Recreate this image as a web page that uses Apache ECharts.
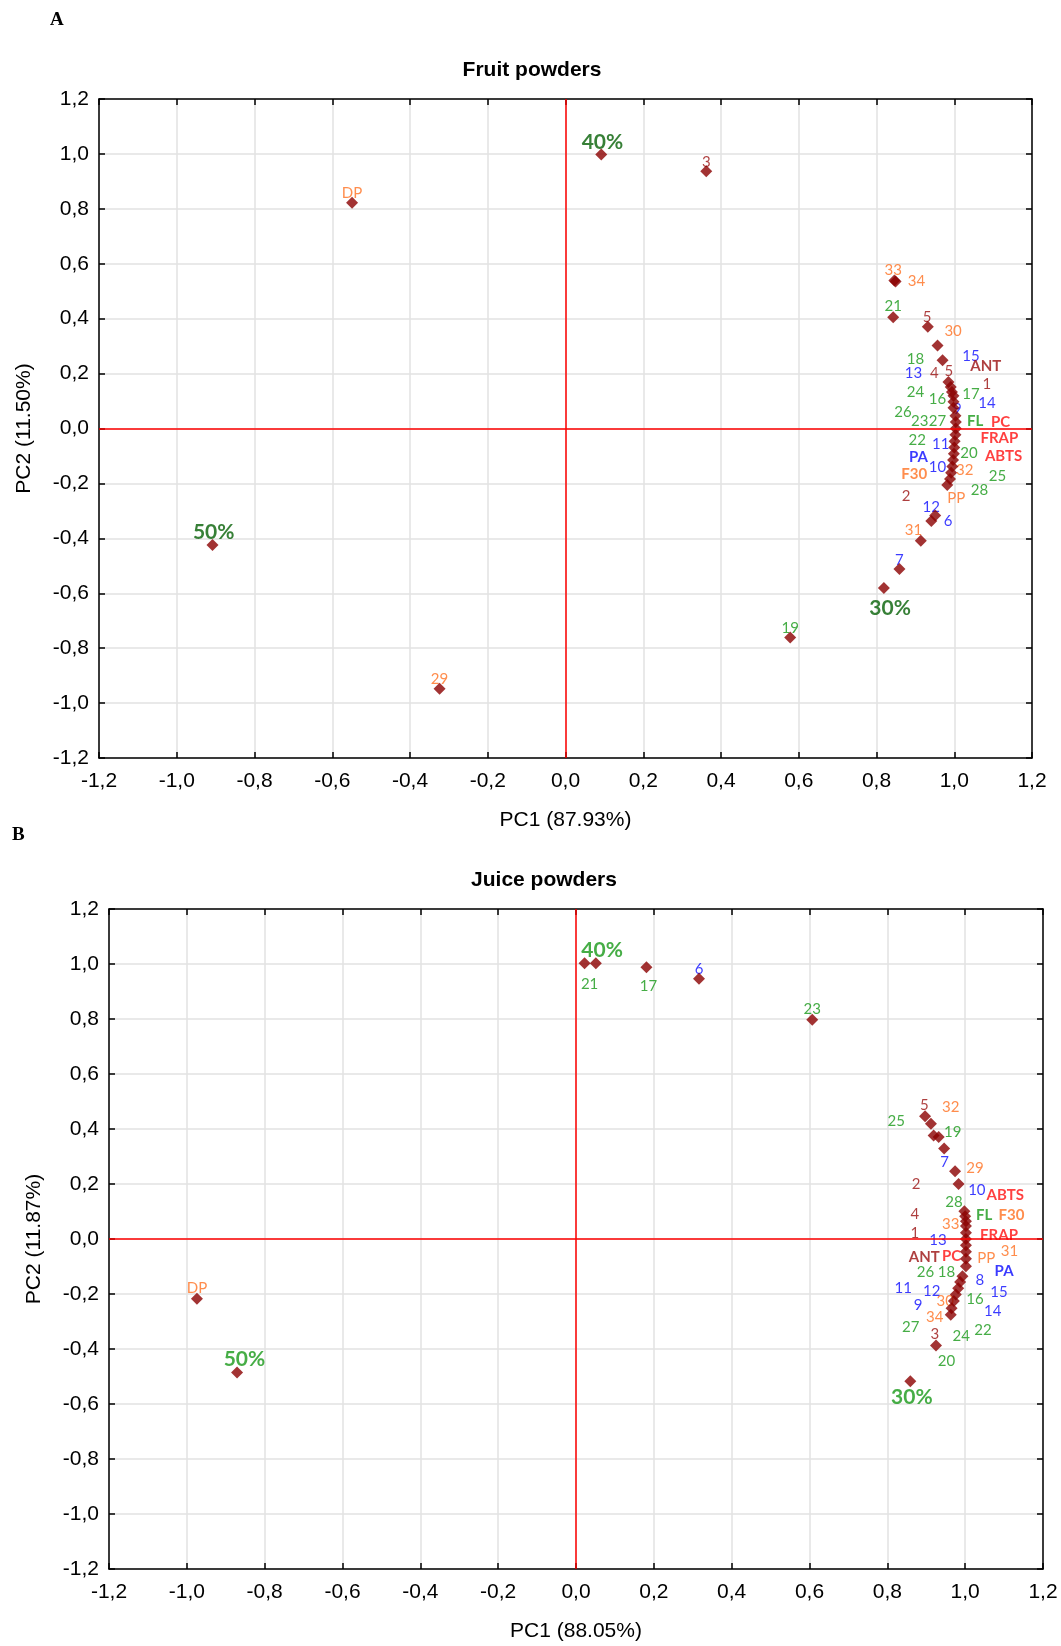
<!DOCTYPE html>
<html><head><meta charset="utf-8">
<script src="https://cdn.jsdelivr.net/npm/echarts@6/dist/echarts.min.js"></script>
<style>html,body{margin:0;padding:0;background:#fff}#c{width:1061px;height:1646px}</style>
</head><body><div id="c"></div>
<script>
// ---------- DATA ----------
const ticks = [-1.2,-1.0,-0.8,-0.6,-0.4,-0.2,0.0,0.2,0.4,0.6,0.8,1.0,1.2];
const titleA = 'Fruit powders', titleB = 'Juice powders';
const xNameA = 'PC1 (87.93%)', yNameA = 'PC2 (11.50%)';
const xNameB = 'PC1 (88.05%)', yNameB = 'PC2 (11.87%)';

// marker positions (PC1, PC2)
const pointsA = [[0.092,0.998],[0.362,0.937],[-0.549,0.822],[0.846,0.539],[0.849,0.535],[0.843,0.405],[0.932,0.371],[0.957,0.302],[0.970,0.249],[0.985,0.169],[0.991,0.151],[0.994,0.133],[0.998,0.119],[0.998,0.097],[0.998,0.076],[1.003,0.046],[1.004,0.024],[1.004,0.0],[1.003,-0.023],[1.001,-0.046],[1.000,-0.069],[0.999,-0.092],[0.997,-0.115],[0.995,-0.138],[0.992,-0.161],[0.989,-0.184],[0.982,-0.206],[0.951,-0.317],[0.941,-0.337],[0.914,-0.409],[0.859,-0.512],[0.819,-0.581],[0.578,-0.761],[-0.324,-0.948],[-0.908,-0.424]];
const pointsB = [[0.022,1.003],[0.051,1.003],[0.181,0.988],[0.316,0.946],[0.607,0.797],[-0.974,-0.217],[-0.871,-0.485],[0.859,-0.517],[0.925,-0.387],[0.897,0.446],[0.912,0.419],[0.919,0.376],[0.932,0.371],[0.946,0.329],[0.974,0.246],[0.983,0.200],[0.998,0.101],[1.000,0.083],[1.002,0.065],[1.002,0.047],[1.002,0.023],[1.002,0.0],[1.002,-0.023],[1.002,-0.046],[1.002,-0.072],[1.002,-0.099],[0.993,-0.135],[0.987,-0.156],[0.982,-0.179],[0.976,-0.202],[0.971,-0.225],[0.965,-0.252],[0.963,-0.275]];

// label anchors: [text, PC1, PC2]
const labelsA = [['40%',0.095,1.044],['3',0.362,0.971],['DP',-0.549,0.857],['33',0.843,0.577],['34',0.903,0.535],['21',0.843,0.444],['5',0.930,0.405],['30',0.997,0.356],['18',0.900,0.252],['15',1.043,0.264],['ANT',1.081,0.226],['13',0.895,0.203],['4',0.949,0.203],['5',0.986,0.210],['1',1.084,0.161],['24',0.900,0.134],['16',0.957,0.107],['17',1.043,0.126],['14',1.084,0.092],['26',0.868,0.061],['9',1.008,0.069],['23',0.911,0.027],['27',0.957,0.027],['FL',1.054,0.027],['PC',1.119,0.023],['22',0.905,-0.042],['FRAP',1.116,-0.034],['11',0.965,-0.057],['20',1.038,-0.088],['PA',0.908,-0.103],['ABTS',1.127,-0.099],['10',0.957,-0.141],['32',1.027,-0.153],['F30',0.897,-0.168],['25',1.111,-0.172],['28',1.065,-0.226],['2',0.876,-0.245],['PP',1.005,-0.252],['12',0.941,-0.287],['6',0.984,-0.337],['31',0.895,-0.371],['7',0.859,-0.478],['30%',0.835,-0.654],['19',0.578,-0.727],['50%',-0.905,-0.379],['29',-0.324,-0.914]];
const labelsB = [['40%',0.067,1.049],['21',0.035,0.927],['17',0.186,0.919],['6',0.316,0.981],['23',0.607,0.836],['DP',-0.974,-0.179],['50%',-0.852,-0.439],['30%',0.863,-0.576],['5',0.895,0.488],['32',0.963,0.481],['25',0.823,0.427],['19',0.968,0.389],['7',0.947,0.279],['29',1.025,0.256],['2',0.874,0.198],['10',1.030,0.179],['ABTS',1.103,0.160],['28',0.971,0.134],['4',0.871,0.092],['FL',1.049,0.088],['F30',1.119,0.088],['33',0.963,0.053],['1',0.871,0.023],['FRAP',1.087,0.015],['13',0.930,-0.004],['ANT',0.895,-0.065],['PC',0.965,-0.061],['PP',1.054,-0.069],['31',1.114,-0.046],['26',0.898,-0.122],['18',0.952,-0.122],['8',1.038,-0.149],['PA',1.100,-0.118],['11',0.841,-0.179],['12',0.914,-0.191],['30',0.949,-0.225],['16',1.025,-0.217],['15',1.087,-0.195],['9',0.879,-0.240],['34',0.922,-0.286],['14',1.071,-0.263],['27',0.860,-0.320],['3',0.922,-0.347],['24',0.990,-0.355],['22',1.046,-0.332],['20',0.952,-0.446]];

// ---------- STYLE ----------
const C = {darkred:'#9A0F0F', blue:'#0A0AFF', green:'#189818', orange:'#FF7020', red:'#FF1010'};
function labelStyle(t, pctColor){
  if (t.endsWith('%')) return {color:pctColor, fontWeight:'bold', fontSize:21};
  const bold = {fontWeight:'bold', fontSize:15};
  if (t==='ANT') return Object.assign({color:C.darkred}, bold);
  if (t==='PC'||t==='FRAP'||t==='ABTS') return Object.assign({color:C.red}, bold);
  if (t==='FL') return Object.assign({color:C.green}, bold);
  if (t==='PA') return Object.assign({color:C.blue}, bold);
  if (t==='F30') return Object.assign({color:C.orange}, bold);
  if (t==='DP'||t==='PP') return {color:C.orange, fontSize:15};
  const n = +t;
  let col = n<=5 ? C.darkred : n<=15 ? C.blue : n<=28 ? C.green : C.orange;
  return {color:col, fontSize:15};
}
const tickFont = 'Liberation Sans Narrow, Arial Narrow, Liberation Sans, Arial, sans-serif';
const fmt = v => v.toFixed(1).replace('.', ',');

function axesFor(gi, xName, yName){
  const base = {type:'value', min:-1.2, max:1.2, interval:0.2, gridIndex:gi};
  const x1 = Object.assign({}, base, {position:'bottom', name:xName, nameLocation:'middle', nameGap:52,
    nameTextStyle:{fontFamily:tickFont, fontSize:21, color:'#000'},
    axisLine:{show:true, onZero:false, lineStyle:{color:'#000', width:1.5}},
    axisTick:{show:true, inside:true, length:6, lineStyle:{color:'#000', width:1.5}},
    axisLabel:{formatter:fmt, fontFamily:tickFont, fontSize:21, color:'#000', margin:13},
    splitLine:{show:true, lineStyle:{color:'#e2e2e2', width:1.5}}});
  const x2 = Object.assign({}, base, {position:'top',
    axisLine:{show:true, onZero:false, lineStyle:{color:'#000', width:1.5}},
    axisTick:{show:true, inside:true, length:6, lineStyle:{color:'#000', width:1.5}},
    axisLabel:{show:false}, splitLine:{show:false}});
  const y1 = Object.assign({}, base, {position:'left', name:yName, nameLocation:'middle', nameGap:64,
    nameTextStyle:{fontFamily:tickFont, fontSize:21, color:'#000'},
    axisLine:{show:true, onZero:false, lineStyle:{color:'#000', width:1.5}},
    axisTick:{show:true, inside:true, length:6, lineStyle:{color:'#000', width:1.5}},
    axisLabel:{formatter:fmt, fontFamily:tickFont, fontSize:21, color:'#000', margin:10},
    splitLine:{show:true, lineStyle:{color:'#e2e2e2', width:1.5}}});
  const y2 = Object.assign({}, base, {position:'right',
    axisLine:{show:true, onZero:false, lineStyle:{color:'#000', width:1.5}},
    axisTick:{show:true, inside:true, length:6, lineStyle:{color:'#000', width:1.5}},
    axisLabel:{show:false}, splitLine:{show:false}});
  return {x:[x1,x2], y:[y1,y2]};
}
const axA = axesFor(0, xNameA, yNameA), axB = axesFor(1, xNameB, yNameB);

function labelSeries(labels, xi, yi, pct){
  return {type:'scatter', xAxisIndex:xi, yAxisIndex:yi, silent:true, z:2,
    symbol:'circle', symbolSize:1, itemStyle:{color:'rgba(0,0,0,0)'},
    data: labels.map(l => ({name:l[0], value:[l[1], l[2]],
      label:Object.assign({show:true, position:'inside', formatter:'{b}', fontFamily:'Lato, Open Sans, sans-serif'}, labelStyle(l[0], pct))}))};
}
function pointSeries(pts, xi, yi){
  return {type:'scatter', xAxisIndex:xi, yAxisIndex:yi, silent:true, z:3,
    symbol:'diamond', symbolSize:12, itemStyle:{color:'#8B0000'}, data:pts,
    markLine:{silent:true, symbol:'none', label:{show:false}, lineStyle:{color:'#FF0000', width:1.5, type:'solid'},
      data:[{xAxis:0},{yAxis:0}]}};
}

const chart = echarts.init(document.getElementById('c'), null, {renderer:'canvas'});
chart.setOption({
  animation:false,
  backgroundColor:'#fff',
  grid:[{left:99, top:99, width:933, height:659},{left:109, top:909, width:934, height:660}],
  xAxis:[axA.x[0], axA.x[1], axB.x[0], axB.x[1]],
  yAxis:[axA.y[0], axA.y[1], axB.y[0], axB.y[1]],
  series:[
    labelSeries(labelsA, 0, 0, '#056005'), pointSeries(pointsA, 0, 0),
    labelSeries(labelsB, 2, 2, '#189818'), pointSeries(pointsB, 2, 2)
  ],
  graphic:[
    {type:'text', left:50, top:11, style:{text:'A', font:'bold 19px Liberation Serif, serif', fill:'#000'}},
    {type:'text', left:12, top:826, style:{text:'B', font:'bold 19px Liberation Serif, serif', fill:'#000'}},
    {type:'text', x:532, y:70, style:{text:titleA, font:'bold 21px Liberation Sans, Arial, sans-serif', fill:'#000', textAlign:'center', textVerticalAlign:'middle'}},
    {type:'text', x:544, y:880, style:{text:titleB, font:'bold 21px Liberation Sans, Arial, sans-serif', fill:'#000', textAlign:'center', textVerticalAlign:'middle'}}
  ]
});
</script></body></html>
